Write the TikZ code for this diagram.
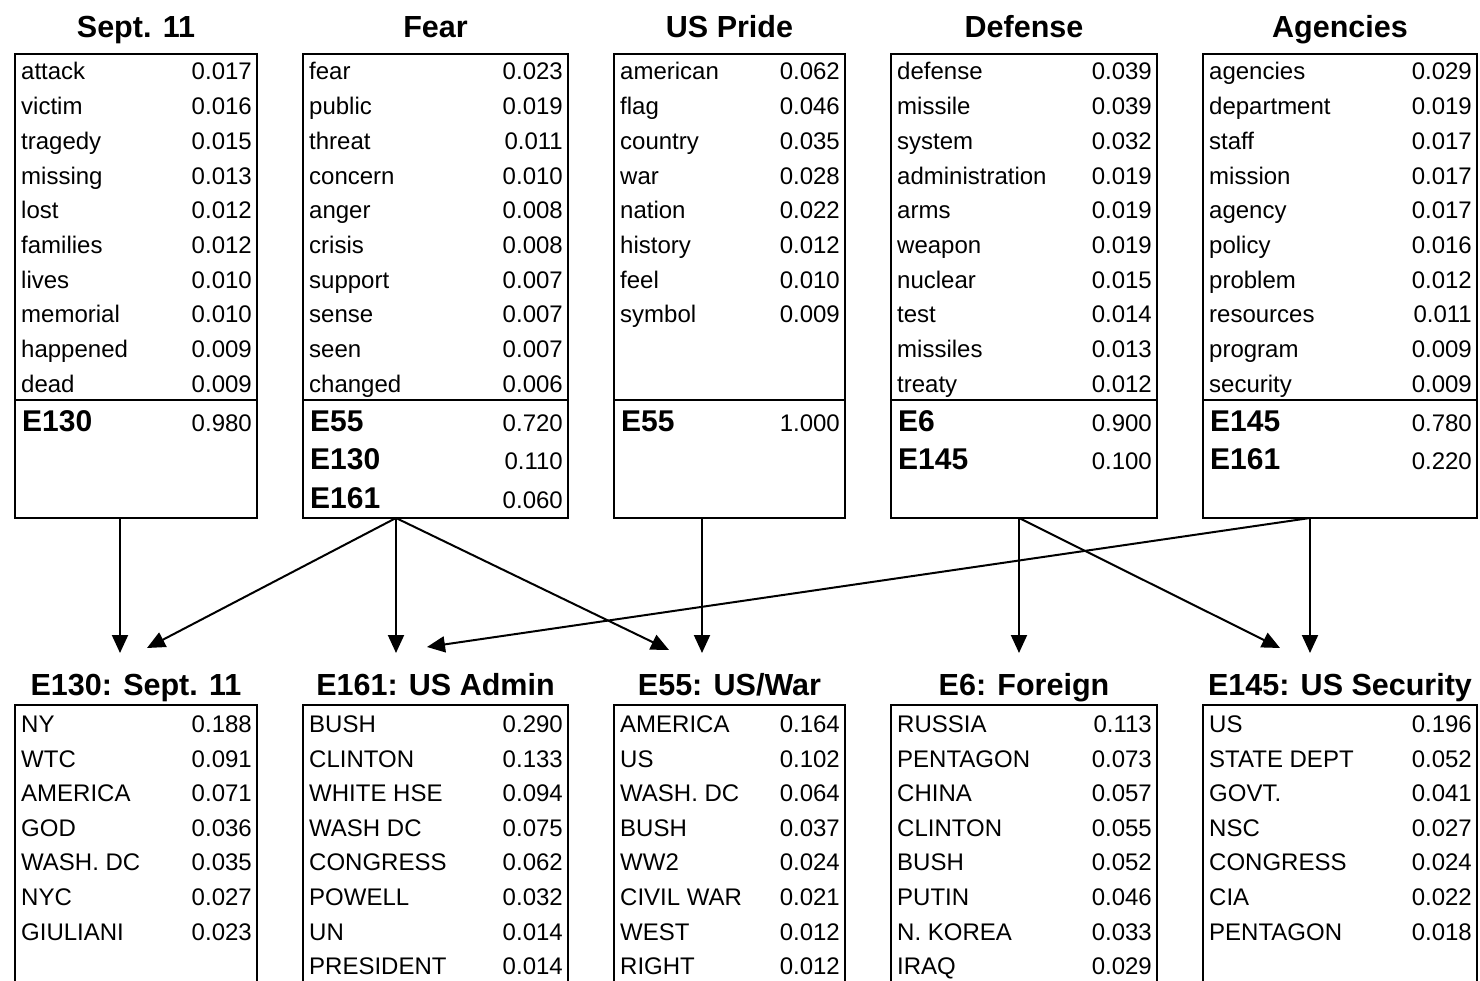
\documentclass[tikz,border=0pt]{standalone}
\usepackage{fontspec}
\setmainfont{Liberation Sans}
\usetikzlibrary{arrows.meta}
\tikzset{
  box/.style={draw, line width=2.5pt, inner sep=0pt, outer sep=0pt},
  boxline/.style={line width=2.5pt},
  word/.style={anchor=base west, inner sep=0pt, font=\fontsize{24}{24}\selectfont},
  val/.style={anchor=base east, inner sep=0pt, font=\fontsize{24}{24}\selectfont},
  ev/.style={anchor=base west, inner sep=0pt, font=\fontsize{30}{30}\selectfont\bfseries},
  ttl/.style={anchor=base, inner sep=0pt, font=\fontsize{30.5}{30}\selectfont\bfseries},
  arr/.style={line width=2pt, -{Triangle[length=18pt,width=16pt]}},
}
% #1 id, #2 left x, #3 right x, #4 title, #5 word list, #6 entity list
\newcommand\topbox[6]{%
  \node[box, minimum width={#3-#2}, minimum height=464] (b#1) at ({(#2+#3)/2},286) {};
  \node[ttl] (h#1) at ({(#2+#3)/2},38) {#4};
  \draw[boxline] (b#1.west |- 0,400) -- (b#1.east |- 0,400);
  \foreach \w/\v [count=\i from 0] in {#5} {
    \node[word] (w#1-\i) at ({#2+6},{80+34.7*\i}) {\w};
    \node[val] (v#1-\i) at ({#3-5},{80+34.7*\i}) {\v};
  }
  \foreach \w/\v [count=\i from 0] in {#6} {
    \node[ev] (e#1-\i) at ({#2+7},{431.5+38.3*\i}) {\w};
    \node[val] (p#1-\i) at ({#3-5},{431.5+38.3*\i}) {\v};
  }
}
\newcommand\botbox[5]{%
  \node[box, minimum width={#3-#2}, minimum height=400] (c#1) at ({(#2+#3)/2},905) {};
  \node[ttl] (g#1) at ({(#2+#3)/2},695) {#4};
  \foreach \w/\v [count=\i from 0] in {#5} {
    \node[word] (x#1-\i) at ({#2+6},{732.5+34.6*\i}) {\w};
    \node[val] (y#1-\i) at ({#3-5},{732.5+34.6*\i}) {\v};
  }
}
\begin{document}
\begin{tikzpicture}[x=1pt,y=-1pt]
\useasboundingbox (0,0) rectangle (1480,981);
\clip (0,0) rectangle (1480,981);
\fill[white] (0,0) rectangle (1480,981);

\topbox{1}{15}{257}{Sept. 11}{attack/0.017,victim/0.016,tragedy/0.015,missing/0.013,lost/0.012,families/0.012,lives/0.010,memorial/0.010,happened/0.009,dead/0.009}{E130/0.980}
\topbox{2}{303}{568}{Fear}{fear/0.023,public/0.019,threat/0.011,concern/0.010,anger/0.008,crisis/0.008,support/0.007,sense/0.007,seen/0.007,changed/0.006}{E55/0.720,E130/0.110,E161/0.060}
\topbox{3}{614}{845}{US Pride}{american/0.062,flag/0.046,country/0.035,war/0.028,nation/0.022,history/0.012,feel/0.010,symbol/0.009}{E55/1.000}
\topbox{4}{891}{1157}{Defense}{defense/0.039,missile/0.039,system/0.032,administration/0.019,arms/0.019,weapon/0.019,nuclear/0.015,test/0.014,missiles/0.013,treaty/0.012}{E6/0.900,E145/0.100}
\topbox{5}{1203}{1477}{Agencies}{agencies/0.029,department/0.019,staff/0.017,mission/0.017,agency/0.017,policy/0.016,problem/0.012,resources/0.011,program/0.009,security/0.009}{E145/0.780,E161/0.220}

\botbox{1}{15}{257}{E130: Sept. 11}{NY/0.188,WTC/0.091,AMERICA/0.071,GOD/0.036,WASH. DC/0.035,NYC/0.027,GIULIANI/0.023}
\botbox{2}{303}{568}{E161: US Admin}{BUSH/0.290,CLINTON/0.133,WHITE HSE/0.094,WASH DC/0.075,CONGRESS/0.062,POWELL/0.032,UN/0.014,PRESIDENT/0.014}
\botbox{3}{614}{845}{E55: US/War}{AMERICA/0.164,US/0.102,WASH. DC/0.064,BUSH/0.037,WW2/0.024,CIVIL WAR/0.021,WEST/0.012,RIGHT/0.012}
\botbox{4}{891}{1157}{E6: Foreign}{RUSSIA/0.113,PENTAGON/0.073,CHINA/0.057,CLINTON/0.055,BUSH/0.052,PUTIN/0.046,N. KOREA/0.033,IRAQ/0.029}
\botbox{5}{1203}{1477}{E145: US Security}{US/0.196,STATE DEPT/0.052,GOVT./0.041,NSC/0.027,CONGRESS/0.024,CIA/0.022,PENTAGON/0.018}

% connector end points
\coordinate (s1) at (b1.south -| 120,0);
\coordinate (s2) at (b2.south -| 396,0);
\coordinate (s3) at (b3.south -| 702,0);
\coordinate (s4) at (b4.south -| 1019,0);
\coordinate (s5) at (b5.south -| 1310,0);
\coordinate (t1a) at (120,653);
\coordinate (t1b) at (147,648);
\coordinate (t2a) at (396,653);
\coordinate (t2b) at (427,647);
\coordinate (t3a) at (702,653);
\coordinate (t3b) at (669,650);
\coordinate (t4a) at (1019,653);
\coordinate (t5a) at (1310,653);
\coordinate (t5b) at (1280,648);

\draw[arr] (s1) -- (t1a);
\draw[arr] (s2) -- (t1b);
\draw[arr] (s2) -- (t2a);
\draw[arr] (s2) -- (t3b);
\draw[arr] (s3) -- (t3a);
\draw[arr] (s4) -- (t4a);
\draw[arr] (s4) -- (t5b);
\draw[arr] (s5) -- (t5a);
\draw[arr] (s5) -- (t2b);
\end{tikzpicture}
\end{document}
